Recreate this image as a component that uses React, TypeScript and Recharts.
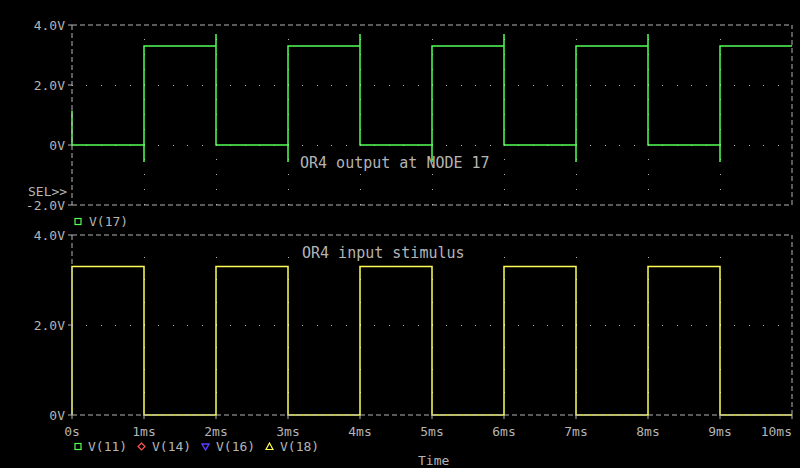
import React from "react";
import { LineChart, Line, XAxis, YAxis, ReferenceLine } from "recharts";

// time axis (ms)
const timeTicks = [0, 1, 2, 3, 4, 5, 6, 7, 8, 9, 10];
const timeLabels = ["0s", "1ms", "2ms", "3ms", "4ms", "5ms", "6ms", "7ms", "8ms", "9ms", "10ms"];
const gridTimes = [1, 2, 3, 4, 5, 6, 7, 8, 9];

// V(17) – OR4 output
const outputTime = [0, 0, 1, 1, 1, 2, 2, 2, 3, 3, 3, 4, 4, 4, 5, 5, 5, 6, 6, 6, 7, 7, 7, 8, 8, 8, 9, 9, 9, 10];
const outputVolts = [1.15, 0, 0, -0.57, 3.3, 3.3, 3.7, 0, 0, -0.57, 3.3, 3.3, 3.7, 0, 0, -0.57, 3.3, 3.3, 3.7, 0, 0, -0.57, 3.3, 3.3, 3.7, 0, 0, -0.57, 3.3, 3.3];
const outputTicks = [-2, 0, 2, 4];
const outputTickLabels = ["-2.0V", "0V", "2.0V", "4.0V"];
const outputGridVolts = [0, 2];

// V(18) – input stimulus
const inputTime = [0, 0, 1, 1, 2, 2, 3, 3, 4, 4, 5, 5, 6, 6, 7, 7, 8, 8, 9, 9, 10];
const inputVolts = [0, 3.3, 3.3, 0, 0, 3.3, 3.3, 0, 0, 3.3, 3.3, 0, 0, 3.3, 3.3, 0, 0, 3.3, 3.3, 0, 0];
const inputTicks = [0, 2, 4];
const inputTickLabels = ["0V", "2.0V", "4.0V"];
const inputGridVolts = [2];

const outputData = outputTime.map((t, i) => ({ t, v: outputVolts[i] }));
const inputData = inputTime.map((t, i) => ({ t, v: inputVolts[i] }));

const GRAY = "#b4b4b4";
const MONO = "'DejaVu Sans Mono', monospace";
const tickStyle = { fill: GRAY, fontSize: 13, fontFamily: MONO };
const frame = { stroke: GRAY, strokeDasharray: "5 3", strokeWidth: 1 };

const TimeTick = (props: any) => {
    const { x, y, payload, index } = props;
    const last = payload.value === timeTicks[timeTicks.length - 1];
    return (
        <text x={x} y={y} dy="0.71em" textAnchor={last ? "end" : "middle"}
            fill={GRAY} fontSize={13} fontFamily={MONO}>
            {timeLabels[index]}
        </text>
    );
};

const Txt = ({ left, y, size = 13, children }: any) => (
    <div style={{
        position: "absolute", left, top: y, transform: "translateY(-50%)",
        fontFamily: MONO, fontSize: size, lineHeight: 1, color: GRAY, whiteSpace: "pre",
    }}>
        {children}
    </div>
);

const Sym = ({ left, y, children }: any) => (
    <svg width={9} height={9} style={{ position: "absolute", left, top: y - 4.5 }}>
        {children}
    </svg>
);

export default function App() {
    return (
        <div style={{ position: "absolute", left: 0, top: 0, width: 800, height: 468, background: "#000", overflow: "hidden" }}>
            <div style={{ position: "absolute", left: 0, top: 0 }}>
                <LineChart width={800} height={215} data={outputData}
                    margin={{ top: 25, right: 8, left: 0, bottom: 10 }}>
                    <XAxis dataKey="t" type="number" domain={[0, 10]} ticks={timeTicks} hide />
                    <YAxis type="number" domain={[-2, 4]} ticks={outputTicks} width={72}
                        tickFormatter={(v) => outputTickLabels[outputTicks.indexOf(v)]}
                        tick={tickStyle} tickSize={4} tickMargin={3}
                        tickLine={{ stroke: GRAY }} axisLine={frame} />
                    {outputGridVolts.map(v => (
                        <ReferenceLine key={"h" + v} y={v} stroke={GRAY} strokeDasharray="1 13.4" shapeRendering="crispEdges" />
                    ))}
                    {gridTimes.map(t => (
                        <ReferenceLine key={"v" + t} x={t} stroke={GRAY} strokeDasharray="1 14" shapeRendering="crispEdges" />
                    ))}
                    <ReferenceLine y={4} {...frame} />
                    <ReferenceLine y={-2} {...frame} />
                    <ReferenceLine x={10} {...frame} />
                    <Line type="linear" dataKey="v" stroke="#55ff55" strokeWidth={1.5}
                        dot={false} isAnimationActive={false} />
                </LineChart>
            </div>

            <div style={{ position: "absolute", left: 0, top: 0 }}>
                <LineChart width={800} height={440} data={inputData}
                    margin={{ top: 235, right: 8, left: 0, bottom: 0 }}>
                    <XAxis dataKey="t" type="number" domain={[0, 10]} ticks={timeTicks} height={25}
                        tick={<TimeTick />} tickSize={4} tickMargin={8} interval={0}
                        tickLine={{ stroke: GRAY }} axisLine={frame} />
                    <YAxis type="number" domain={[0, 4]} ticks={inputTicks} width={72}
                        tickFormatter={(v) => inputTickLabels[inputTicks.indexOf(v)]}
                        tick={tickStyle} tickSize={4} tickMargin={3}
                        tickLine={{ stroke: GRAY }} axisLine={frame} />
                    {inputGridVolts.map(v => (
                        <ReferenceLine key={"h" + v} y={v} stroke={GRAY} strokeDasharray="1 13.4" shapeRendering="crispEdges" />
                    ))}
                    {gridTimes.map(t => (
                        <ReferenceLine key={"v" + t} x={t} stroke={GRAY} strokeDasharray="1 21.5" shapeRendering="crispEdges" />
                    ))}
                    <ReferenceLine y={4} {...frame} />
                    <ReferenceLine x={10} {...frame} />
                    <Line type="linear" dataKey="v" stroke="#ffff55" strokeWidth={1.5}
                        dot={false} isAnimationActive={false} />
                </LineChart>
            </div>

            <Txt left={28} y={191}>SEL&gt;&gt;</Txt>
            <Txt left={300} y={163} size={15}>OR4 output at NODE 17</Txt>
            <Txt left={302} y={253} size={15}>OR4 input stimulus</Txt>

            <Sym left={74} y={221}><rect x={1} y={1.5} width={6} height={6} fill="none" stroke="#55ff55" strokeWidth={1.2} /></Sym>
            <Txt left={89} y={221}>V(17)</Txt>

            <Sym left={74} y={446}><rect x={1} y={1.5} width={6} height={6} fill="none" stroke="#55ff55" strokeWidth={1.2} /></Sym>
            <Txt left={88} y={446}>V(11)</Txt>
            <Sym left={137} y={446}><path d="M4.5 1 L8 4.5 L4.5 8 L1 4.5 Z" fill="none" stroke="#ff5555" strokeWidth={1.2} /></Sym>
            <Txt left={152} y={446}>V(14)</Txt>
            <Sym left={201} y={446}><path d="M1 2 L8 2 L4.5 8 Z" fill="none" stroke="#5a3cff" strokeWidth={1.4} /></Sym>
            <Txt left={216} y={446}>V(16)</Txt>
            <Sym left={265} y={446}><path d="M4.5 1 L8 7.5 L1 7.5 Z" fill="none" stroke="#ffff55" strokeWidth={1.2} /></Sym>
            <Txt left={280} y={446}>V(18)</Txt>

            <Txt left={418} y={460}>Time</Txt>
        </div>
    );
}
